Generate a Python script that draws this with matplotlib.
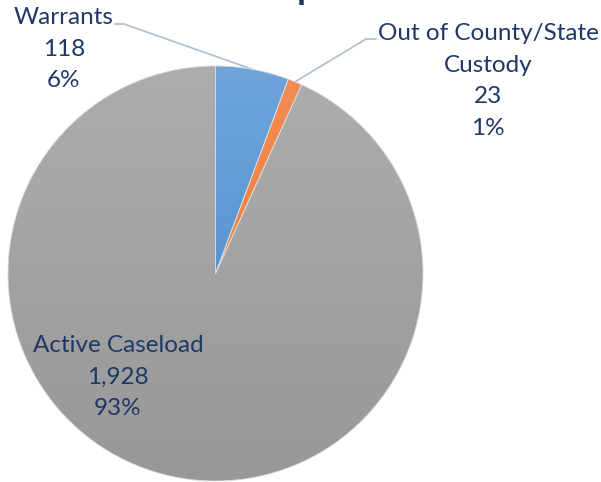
import numpy as np
import matplotlib
matplotlib.use("Agg")
from matplotlib import pyplot as plt
from matplotlib.colors import LinearSegmentedColormap

# slice data (clockwise from 12 o'clock)
labels = ["Warrants", "Out of County/State\nCustody", "Active Caseload"]
counts = [118, 23, 1928]
pcts = ["6%", "1%", "93%"]
count_text = ["118", "23", "1,928"]

W, H = 601, 482
navy = "#1F3864"
line_col = "#B4C1D1"

plt.rcParams['font.family'] = ['Lato', 'DejaVu Sans']

fig = plt.figure(figsize=(W / 100, H / 100), dpi=100)
ax = fig.add_axes([0, 0, 1, 1])

# pie geometry in pixel coords (y measured from bottom)
cx, cy, r = 215.5, H - 273.5, 207.5

wedges, _ = ax.pie(counts, startangle=90, counterclock=False,
                   center=(cx, cy), radius=r, frame=True,
                   colors=["#5B9BD5", "#ED7D31", "#A5A5A5"],
                   wedgeprops=dict(linewidth=0.6, edgecolor="#D9D9D9"))
ax.set_xlim(0, W)
ax.set_ylim(0, H)
ax.set_aspect("equal")
ax.axis("off")

# vertical gradients like the office-style fill
def grad_fill(wedge, top, bottom):
    cmap = LinearSegmentedColormap.from_list("g", [bottom, top])
    grad = np.linspace(0, 1, 256).reshape(-1, 1)
    im = ax.imshow(grad, cmap=cmap, origin="lower", aspect="auto",
                   extent=[cx - r, cx + r, cy - r, cy + r], zorder=wedge.get_zorder())
    im.set_clip_path(wedge)
    wedge.set_facecolor("none")
    wedge.set_zorder(wedge.get_zorder() + 0.1)

grad_fill(wedges[0], "#70A5DC", "#4285CB")
grad_fill(wedges[1], "#F28D55", "#F07522")
grad_fill(wedges[2], "#ADADAD", "#989898")

# labels
fs = 17.5
def lbl(x, y, s):
    ax.text(x, H - y, s, ha="center", va="center", fontsize=fs, color=navy,
            linespacing=1.62)

lbl(64, 49, labels[0] + "\n" + count_text[0] + "\n" + pcts[0])
lbl(488, 81, labels[1] + "\n" + count_text[1] + "\n" + pcts[1])
lbl(118, 377, labels[2] + "\n" + count_text[2] + "\n" + pcts[2])

# leader lines to slice midpoints
total = sum(counts)
cum = np.cumsum([0] + counts)
def mid_point(i):
    ang = np.deg2rad(90 - (cum[i] + counts[i] / 2) / total * 360)
    return cx + r * np.cos(ang), cy + r * np.sin(ang)

px, py = mid_point(0)
ax.plot([115, 124, px], [H - 24, H - 24, py], color=line_col, lw=1.3, zorder=1)
px, py = mid_point(1)
ax.plot([376, 366, px], [H - 39, H - 39, py], color=line_col, lw=1.3, zorder=1)

# title, mostly cropped off above the image
ax.text(307, H + 1, "p", ha="center", va="baseline", fontsize=26,
        fontweight="bold", color=navy, clip_on=False)

fig.savefig("out.png", dpi=100)
